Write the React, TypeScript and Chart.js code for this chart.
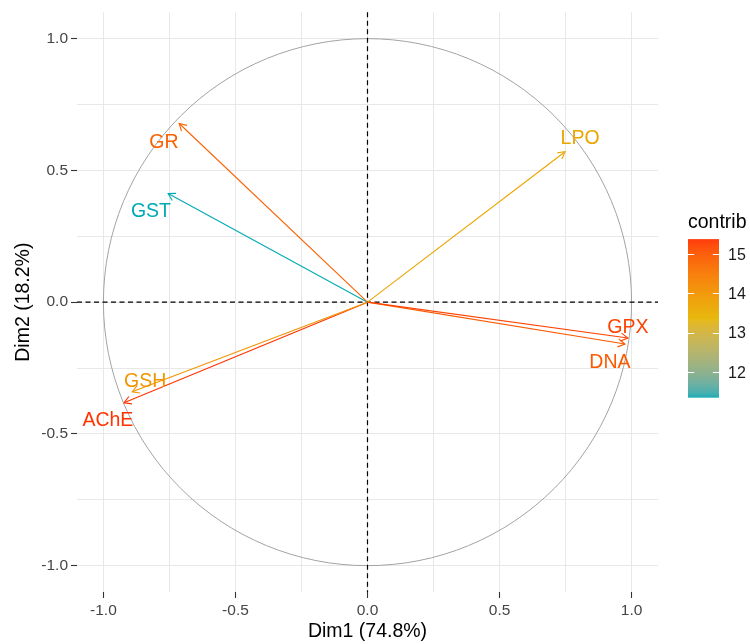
import React, { useEffect, useRef } from "react";
import { Chart, registerables } from "chart.js";

Chart.register(...registerables);

// ---- data ----
const variables = ["GR", "GST", "LPO", "GPX", "DNA", "GSH", "AChE"];
const dim1 = [-0.713, -0.755, 0.748, 0.986, 0.975, -0.891, -0.922];
const dim2 = [0.678, 0.412, 0.571, -0.136, -0.159, -0.34, -0.382];
const contrib = [14.87, 11.36, 13.7, 15.24, 14.97, 14.0, 15.38];
// repelled label positions (data units)
const labelDim1 = [-0.771, -0.82, 0.805, 0.986, 0.918, -0.842, -0.983];
const labelDim2 = [0.612, 0.348, 0.628, -0.091, -0.223, -0.295, -0.442];

const gridBreaks = [-1, -0.75, -0.5, -0.25, 0, 0.25, 0.5, 0.75, 1];
const majorBreaks = [-1, -0.5, 0, 0.5, 1];
const legendTicks = [12, 13, 14, 15];
const contribRange = [11.36, 15.38];
const gradientColors = ["#00AAB4", "#E6B500", "#FF3300"];

const xTitle = "Dim1 (74.8%)";
const yTitle = "Dim2 (18.2%)";
const legendTitle = "contrib";

const FONT = "'Liberation Sans', Arial, Helvetica, sans-serif";

// ---- colour helpers (Lab interpolation like ggplot) ----
function hexToRgb(h: string): number[] {
  const n = parseInt(h.slice(1), 16);
  return [(n >> 16) & 255, (n >> 8) & 255, n & 255];
}
const s2l = (c: number) => (c <= 0.04045 ? c / 12.92 : Math.pow((c + 0.055) / 1.055, 2.4));
const l2s = (c: number) => (c <= 0.0031308 ? 12.92 * c : 1.055 * Math.pow(c, 1 / 2.4) - 0.055);
function rgbToLab(rgb: number[]): number[] {
  const [R, G, B] = rgb.map((c) => s2l(c / 255));
  const X = (0.4124564 * R + 0.3575761 * G + 0.1804375 * B) / 0.95047;
  const Y = 0.2126729 * R + 0.7151522 * G + 0.072175 * B;
  const Z = (0.0193339 * R + 0.119192 * G + 0.9503041 * B) / 1.08883;
  const f = (t: number) => (t > 216 / 24389 ? Math.cbrt(t) : ((24389 / 27) * t + 16) / 116);
  const fx = f(X), fy = f(Y), fz = f(Z);
  return [116 * fy - 16, 500 * (fx - fy), 200 * (fy - fz)];
}
function labToRgb(lab: number[]): number[] {
  const [L, a, b] = lab;
  const fy = (L + 16) / 116;
  const fx = fy + a / 500;
  const fz = fy - b / 200;
  const inv = (t: number) => (t * t * t > 216 / 24389 ? t * t * t : (116 * t - 16) / (24389 / 27));
  const X = inv(fx) * 0.95047, Y = inv(fy), Z = inv(fz) * 1.08883;
  const R = 3.2404542 * X - 1.5371385 * Y - 0.4985314 * Z;
  const G = -0.969266 * X + 1.8760108 * Y + 0.041556 * Z;
  const B = 0.0556434 * X - 0.2040259 * Y + 1.0572252 * Z;
  return [R, G, B].map((c) => Math.round(Math.max(0, Math.min(1, l2s(c))) * 255));
}
const gradLab = gradientColors.map((c) => rgbToLab(hexToRgb(c)));
function colorFor(v: number): string {
  let t = (v - contribRange[0]) / (contribRange[1] - contribRange[0]);
  t = Math.max(0, Math.min(1, t));
  const seg = t < 0.5 ? 0 : 1;
  const lt = seg === 0 ? t * 2 : (t - 0.5) * 2;
  const a = gradLab[seg], b = gradLab[seg + 1];
  const rgb = labToRgb([0, 1, 2].map((k) => a[k] + (b[k] - a[k]) * lt));
  return `rgb(${rgb[0]},${rgb[1]},${rgb[2]})`;
}

const isMajor = (v: number) => majorBreaks.some((m) => Math.abs(m - v) < 1e-9);
const fmt = (v: number) => (Math.abs(v) < 1e-9 ? "0.0" : v.toFixed(1));

const decorPlugin = {
  id: "pcaDecor",
  beforeDatasetsDraw(chart: any) {
    const { ctx, chartArea, scales } = chart;
    const x = scales.x, y = scales.y;
    const cx = x.getPixelForValue(0), cy = y.getPixelForValue(0);
    const rx = x.getPixelForValue(1) - cx;
    const ry = cy - y.getPixelForValue(1);
    ctx.save();
    ctx.beginPath();
    ctx.ellipse(cx, cy, rx, ry, 0, 0, Math.PI * 2);
    ctx.strokeStyle = "#A3A3A3";
    ctx.lineWidth = 1;
    ctx.stroke();
    ctx.setLineDash([5, 3.5]);
    ctx.strokeStyle = "#000000";
    ctx.lineWidth = 1.2;
    ctx.beginPath();
    ctx.moveTo(chartArea.left, cy);
    ctx.lineTo(chartArea.right, cy);
    ctx.moveTo(cx, chartArea.top);
    ctx.lineTo(cx, chartArea.bottom);
    ctx.stroke();
    ctx.restore();
  },
  afterDatasetsDraw(chart: any) {
    const { ctx, scales } = chart;
    const x = scales.x, y = scales.y;
    const x0 = x.getPixelForValue(0), y0 = y.getPixelForValue(0);
    ctx.save();
    variables.forEach((name, i) => {
      const col = colorFor(contrib[i]);
      const tx = x.getPixelForValue(dim1[i]);
      const ty = y.getPixelForValue(dim2[i]);
      const ang = Math.atan2(ty - y0, tx - x0);
      const len = 8;
      const spread = Math.PI / 6;
      ctx.strokeStyle = col;
      ctx.lineWidth = 1.1;
      ctx.beginPath();
      ctx.moveTo(tx - len * Math.cos(ang - spread), ty - len * Math.sin(ang - spread));
      ctx.lineTo(tx, ty);
      ctx.lineTo(tx - len * Math.cos(ang + spread), ty - len * Math.sin(ang + spread));
      ctx.stroke();
    });
    const fs = 19.5;
    ctx.font = `${fs}px ${FONT}`;
    ctx.textAlign = "center";
    ctx.textBaseline = "alphabetic";
    variables.forEach((name, i) => {
      ctx.fillStyle = colorFor(contrib[i]);
      const lx = x.getPixelForValue(labelDim1[i]);
      const ly = y.getPixelForValue(labelDim2[i]);
      ctx.fillText(name, lx, ly + 0.358 * fs);
    });
    ctx.restore();
  },
  afterDraw(chart: any) {
    const { ctx, chartArea } = chart;
    const barLeft = chartArea.right + 30;
    const barW = 31;
    const mid = (chartArea.top + chartArea.bottom) / 2;
    const barBottom = mid + 95;
    const barH = 158;
    const barTop = barBottom - barH;
    const vToY = (v: number) =>
      barBottom - ((v - contribRange[0]) / (contribRange[1] - contribRange[0])) * barH;
    ctx.save();
    for (let k = 0; k < barH; k++) {
      const v = contribRange[0] + ((k + 0.5) / barH) * (contribRange[1] - contribRange[0]);
      ctx.fillStyle = colorFor(v);
      ctx.fillRect(barLeft, barBottom - k - 1, barW, 1.5);
    }
    ctx.strokeStyle = "#FFFFFF";
    ctx.lineWidth = 1;
    legendTicks.forEach((t) => {
      const ty = Math.round(vToY(t)) + 0.5;
      ctx.beginPath();
      ctx.moveTo(barLeft, ty);
      ctx.lineTo(barLeft + barW / 5, ty);
      ctx.moveTo(barLeft + barW - barW / 5, ty);
      ctx.lineTo(barLeft + barW, ty);
      ctx.stroke();
    });
    const tfs = 16;
    ctx.fillStyle = "#1A1A1A";
    ctx.font = `${tfs}px ${FONT}`;
    ctx.textAlign = "left";
    ctx.textBaseline = "alphabetic";
    legendTicks.forEach((t) => {
      ctx.fillText(String(t), barLeft + barW + 9, vToY(t) + 0.358 * tfs);
    });
    ctx.fillStyle = "#000000";
    ctx.font = `19.5px ${FONT}`;
    ctx.fillText(legendTitle, barLeft, barTop - 11);
    ctx.restore();
  },
};

function axisConfig(title: string, isX: boolean) {
  return {
    type: "linear",
    min: -1.1,
    max: 1.1,
    afterBuildTicks: (scale: any) => {
      scale.ticks = gridBreaks.map((v) => ({ value: v }));
    },
    afterFit: (scale: any) => {
      if (isX) scale.height = 52;
      else scale.width = 77;
    },
    ticks: {
      autoSkip: false,
      maxRotation: 0,
      minRotation: 0,
      padding: 3,
      color: "#454545",
      font: { family: FONT, size: 15.5 },
      callback: (v: number) => (isMajor(v) ? fmt(v) : ""),
    },
    grid: {
      color: "#E8E8E8",
      lineWidth: 1,
      drawTicks: true,
      tickLength: 6,
      tickWidth: 1.1,
      tickColor: (c: any) => (c.tick && isMajor(c.tick.value) ? "#333333" : "rgba(0,0,0,0)"),
    },
    border: { display: false },
    title: {
      display: true,
      text: title,
      color: "#000000",
      font: { family: FONT, size: 19.5 },
      padding: isX ? { top: 0, bottom: 1 } : { top: 12, bottom: 0 },
    },
  };
}

export default function App() {
  const canvasRef = useRef<HTMLCanvasElement | null>(null);

  useEffect(() => {
    document.body.style.margin = "0";
    const canvas = canvasRef.current;
    if (!canvas) return;
    const datasets = variables.map((name, i) => ({
      label: name,
      data: [
        { x: 0, y: 0 },
        { x: dim1[i], y: dim2[i] },
      ],
      showLine: true,
      borderColor: colorFor(contrib[i]),
      backgroundColor: colorFor(contrib[i]),
      borderWidth: 1.1,
      pointRadius: 0,
      pointHoverRadius: 0,
      fill: false,
    }));
    const chart = new Chart(canvas, {
      type: "scatter",
      data: { datasets },
      options: {
        animation: false,
        responsive: false,
        events: [],
        layout: { padding: { left: 0, right: 92, top: 10, bottom: 0 } },
        plugins: {
          legend: { display: false },
          tooltip: { enabled: false },
          title: { display: false },
        },
        scales: {
          x: axisConfig(xTitle, true) as any,
          y: axisConfig(yTitle, false) as any,
        },
      },
      plugins: [decorPlugin as any],
    });
    return () => chart.destroy();
  }, []);

  return (
    <div style={{ width: 750, height: 644, background: "#FFFFFF" }}>
      <canvas ref={canvasRef} width={750} height={644} style={{ display: "block" }} />
    </div>
  );
}
